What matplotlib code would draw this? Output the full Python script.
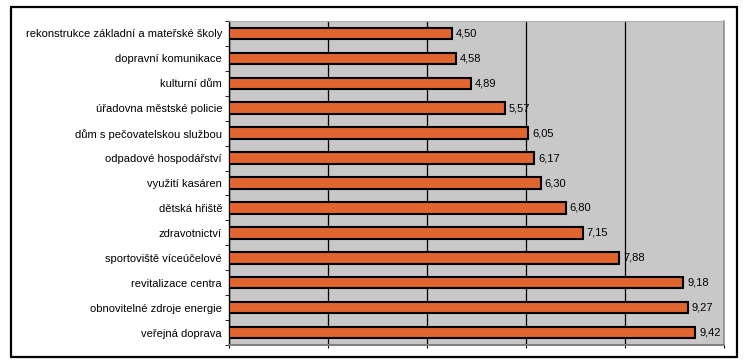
import numpy as np
import matplotlib
matplotlib.use("Agg")
import matplotlib.pyplot as plt
from matplotlib.patches import Rectangle

plt.rcParams['font.family'] = ['Liberation Sans', 'DejaVu Sans']

categories = [
    "rekonstrukce základní a mateřské školy",
    "dopravní komunikace",
    "kulturní dům",
    "úřadovna městské policie",
    "dům s pečovatelskou službou",
    "odpadové hospodářství",
    "využití kasáren",
    "dětská hřiště",
    "zdravotnictví",
    "sportoviště víceúčelové",
    "revitalizace centra",
    "obnovitelné zdroje energie",
    "veřejná doprava",
]
values = [4.50, 4.58, 4.89, 5.57, 6.05, 6.17, 6.30, 6.80, 7.15, 7.88, 9.18, 9.27, 9.42]
value_labels = ["4,50", "4,58", "4,89", "5,57", "6,05", "6,17", "6,30",
                "6,80", "7,15", "7,88", "9,18", "9,27", "9,42"]

fig = plt.figure(figsize=(7.5, 3.64), dpi=100)
ax = fig.add_axes([229 / 750, 1 - 345 / 364, 495 / 750, 324 / 364])

# outer frame round the whole chart
fig.patches.append(Rectangle((11 / 750, 1 - 357 / 364), 726 / 750, 350 / 364,
                             transform=fig.transFigure, fill=False,
                             edgecolor='black', linewidth=1.6))

y = np.arange(len(categories))
ax.set_facecolor('#c8c8c8')
ax.barh(y, values, height=0.46, color='#e0652e', edgecolor='black',
        linewidth=1.5, zorder=3)

for yi, v, lab in zip(y, values, value_labels):
    ax.text(v + 0.08, yi, lab, va='center', ha='left', fontsize=8, zorder=4)

ax.set_xlim(0, 10)
ax.set_ylim(len(categories) - 0.5, -0.5)
ax.set_xticks([0, 2, 4, 6, 8, 10])
ax.set_xticklabels([])
ax.tick_params(axis='x', length=2, color='black')
ax.grid(axis='x', color='black', linewidth=0.9, zorder=1)

ax.set_yticks(y)
ax.set_yticklabels(categories, fontsize=8)
ax.tick_params(axis='y', which='major', length=0, pad=5)
ax.set_yticks(np.arange(-0.5, len(categories), 1), minor=True)
ax.tick_params(axis='y', which='minor', length=3, color='black')

ax.spines['left'].set_color('black')
ax.spines['left'].set_linewidth(1.0)
ax.spines['bottom'].set_color('#808080')
ax.spines['bottom'].set_linewidth(1.5)
ax.spines['right'].set_color('#909090')
ax.spines['right'].set_linewidth(1.2)
ax.spines['top'].set_color('#b0b0b0')
ax.spines['top'].set_linewidth(0.8)

fig.savefig('out.png', dpi=100)
